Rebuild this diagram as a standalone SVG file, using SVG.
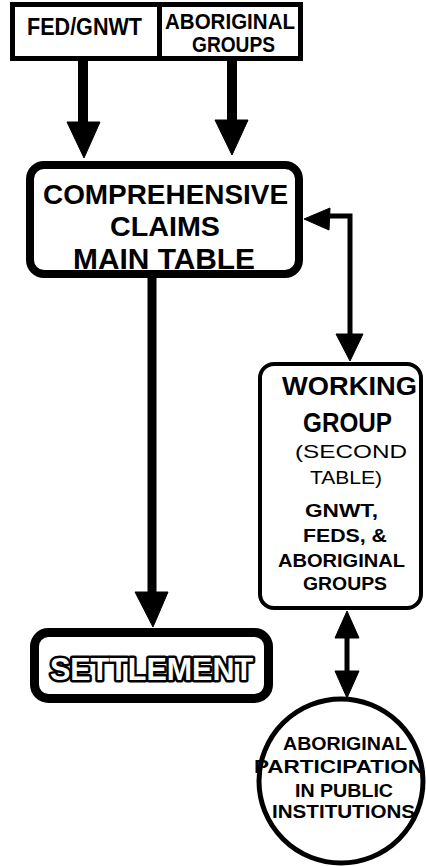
<svg xmlns="http://www.w3.org/2000/svg" width="426" height="866" viewBox="0 0 426 866">
  <style>
    .box { fill: #fff; stroke: #000; }
    .t { font-family: "Liberation Sans", "DejaVu Sans", sans-serif; font-weight: bold; fill: #000; }
    .tl { font-family: "Liberation Sans", "DejaVu Sans", sans-serif; font-weight: normal; fill: #000; }
    .outline { font-family: "Liberation Sans", "DejaVu Sans", sans-serif; font-weight: bold; }
    .line { stroke: #000; fill: none; }
    .head { fill: #000; stroke: #000; stroke-width: 1; stroke-linejoin: round; }
  </style>

  <rect x="0" y="0" width="426" height="866" fill="#fff"/>

  <!-- source boxes -->
  <g id="fed-gnwt">
    <rect class="box" x="12.5" y="4.5" width="147" height="54" stroke-width="5"/>
    <text class="t" x="27" y="35" font-size="23" textLength="115" lengthAdjust="spacingAndGlyphs">FED/GNWT</text>
  </g>
  <g id="aboriginal-groups">
    <rect class="box" x="159.5" y="4.5" width="141" height="54" stroke-width="5"/>
    <text class="t" x="165" y="29" font-size="22" textLength="130" lengthAdjust="spacingAndGlyphs">ABORIGINAL</text>
    <text class="t" x="192" y="52" font-size="22" textLength="83" lengthAdjust="spacingAndGlyphs">GROUPS</text>
  </g>

  <!-- main table -->
  <g id="main-table">
    <rect class="box" x="30" y="165" width="269" height="109" rx="14" stroke-width="8"/>
    <text class="t" x="43" y="204" font-size="28" textLength="245" lengthAdjust="spacingAndGlyphs">COMPREHENSIVE</text>
    <text class="t" x="110" y="236" font-size="28" textLength="110" lengthAdjust="spacingAndGlyphs">CLAIMS</text>
    <text class="t" x="73" y="269" font-size="29" textLength="182" lengthAdjust="spacingAndGlyphs">MAIN TABLE</text>
  </g>

  <!-- working group -->
  <g id="working-group">
    <rect class="box" x="260" y="364" width="161" height="244" rx="14" stroke-width="4"/>
    <text class="t" x="282" y="395" font-size="26" textLength="135" lengthAdjust="spacingAndGlyphs">WORKING</text>
    <text class="t" x="303" y="432" font-size="27" textLength="89" lengthAdjust="spacingAndGlyphs">GROUP</text>
    <text class="tl" x="295" y="458" font-size="19" textLength="112" lengthAdjust="spacingAndGlyphs">(SECOND</text>
    <text class="tl" x="310" y="484" font-size="19" textLength="72" lengthAdjust="spacingAndGlyphs">TABLE)</text>
    <text class="t" x="305" y="517" font-size="19" textLength="73" lengthAdjust="spacingAndGlyphs">GNWT,</text>
    <text class="t" x="303" y="542" font-size="19" textLength="84" lengthAdjust="spacingAndGlyphs">FEDS, &amp;</text>
    <text class="t" x="278" y="567" font-size="19" textLength="127" lengthAdjust="spacingAndGlyphs">ABORIGINAL</text>
    <text class="t" x="303" y="590" font-size="19" textLength="84" lengthAdjust="spacingAndGlyphs">GROUPS</text>
  </g>

  <!-- settlement: hollow lettering, black outline under a white face -->
  <g id="settlement">
    <rect class="box" x="34.5" y="632.5" width="234" height="66" rx="14" stroke-width="9"/>
    <g opacity="0.99">
      <text class="outline" x="50" y="680" font-size="31" textLength="203" lengthAdjust="spacingAndGlyphs" fill="#000" stroke="#000" stroke-width="5" stroke-linejoin="round">SETTLEMENT</text>
      <text class="outline" x="50" y="680" font-size="31" textLength="203" lengthAdjust="spacingAndGlyphs" fill="#fff">SETTLEMENT</text>
    </g>
  </g>

  <!-- public institutions -->
  <g id="public-institutions">
    <circle class="box" cx="341" cy="781" r="82" stroke-width="5"/>
    <text class="t" x="283" y="750" font-size="18" textLength="124" lengthAdjust="spacingAndGlyphs">ABORIGINAL</text>
    <text class="t" x="254" y="773" font-size="18" textLength="170" lengthAdjust="spacingAndGlyphs">PARTICIPATION</text>
    <text class="t" x="295" y="797" font-size="18" textLength="98" lengthAdjust="spacingAndGlyphs">IN PUBLIC</text>
    <text class="t" x="272" y="818" font-size="18" textLength="143" lengthAdjust="spacingAndGlyphs">INSTITUTIONS</text>
  </g>

  <!-- connectors -->
  <g id="connectors">
    <!-- sources to main table -->
    <line class="line" x1="83" y1="58" x2="83" y2="124" stroke-width="10"/>
    <polygon class="head" points="67,122 100,122 84,158"/>
    <line class="line" x1="232" y1="58" x2="232" y2="122" stroke-width="10"/>
    <polygon class="head" points="215,120 248,120 232,155"/>

    <!-- main table to settlement -->
    <line class="line" x1="152" y1="274" x2="152" y2="594" stroke-width="9"/>
    <polygon class="head" points="135,592 168,592 153,627"/>

    <!-- main table and working group -->
    <polyline class="line" points="328,216 350,216 350,336" stroke-width="5"/>
    <polygon class="head" points="304,219 330,208 329,230"/>
    <polygon class="head" points="336,334 363,334 350,361"/>

    <!-- working group and public institutions -->
    <line class="line" x1="347" y1="634" x2="347" y2="675" stroke-width="5"/>
    <polygon class="head" points="347,611 359,638 335,638"/>
    <polygon class="head" points="335,671 359,671 347,698"/>
  </g>
</svg>
